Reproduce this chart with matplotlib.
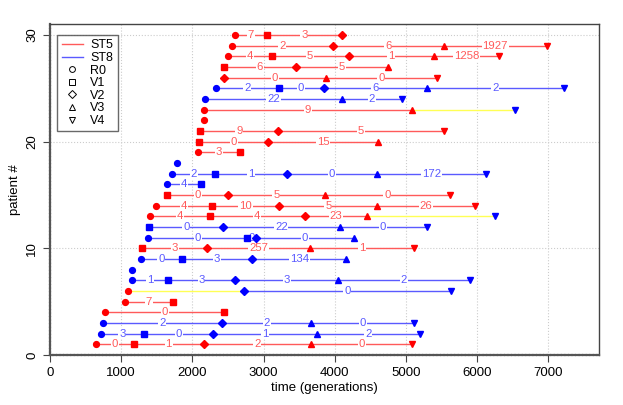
import numpy as np
import matplotlib.pyplot as plt
from matplotlib.lines import Line2D

nan = np.nan

# visit times (generations) for patients 1..30, nan = no sample
r0 = [648, 715, 741, 774, 1059, 1097, 1157, 1157, 1279, nan,
      1382, nan, 1410, 1494, nan, 1648, 1714, 1779, 2074, nan,
      nan, 2158, 2158, 2181, 2326, nan, nan, 2495, 2555, 2600]
v1 = [1175, 1320, nan, 2448, 1723, nan, 1653, nan, 1850, 1293,
      2761, 1396, 2242, 2275, 1648, 2116, 2317, nan, 2667, 2097,
      2110, nan, nan, nan, 3210, nan, 2443, 3112, nan, 3046]
v2 = [2158, 2290, 2413, nan, nan, 2728, 2602, nan, 2840, 2205,
      2892, 2429, 3579, 3219, 2495, nan, 3322, nan, nan, 3065,
      3205, nan, nan, nan, 3841, 2439, 3453, 4192, 3968, 4098]
v3 = [3660, 3750, 3668, nan, nan, nan, 4046, nan, 4159, 3654,
      4271, 4066, 4449, 4599, 3860, nan, 4599, nan, nan, 4608,
      nan, nan, 5080, 4094, 5290, 3874, 4753, 5393, 5533, nan]
v4 = [5090, 5190, 5110, nan, nan, 5627, 5898, nan, nan, 5112,
      nan, 5290, 6244, 5963, 5617, nan, 6118, nan, nan, nan,
      5533, nan, 6528, 4949, 7216, 5431, nan, 6300, 6975, nan]

# strain found at each visit (R0 V1 V2 V3 V4): 5 = ST5, 8 = ST8
strain = ["55555", "88888", "8.888", "55...", "55...", "5.8.8", "88888", "8....", "8888.", ".5555",
          "8888.", ".8888", "55558", "55555", ".5555", "88...", "88888", "8....", "55...", ".555.",
          ".55.5", "5....", "5..58", "8..88", "88888", "..555", ".555.", "55555", "5.555", "555.."]

# numbers written on each segment (None = strain switch, no number)
seg_labels = [[0, 1, 2, 0], [3, 0, 1, 2], [2, 2, 0], [0], [7], [None, 0], [1, 3, 3, 2], [], [0, 3, 134], [3, 257, 1],
              [0, 0, 0], [0, 22, 0], [4, 4, 23, None], [4, 10, 5, 26], [0, 5, 0], [4], [2, 1, 0, 172], [], [3], [0, 15],
              [9, 5], [], [9, None], [22, 2], [2, 0, 6, 2], [0, 0], [6, 5], [4, 5, 1, 1258], [2, 6, 1927], [7, 3]]

visits = ['R0', 'V1', 'V2', 'V3', 'V4']
markers = ['o', 's', 'D', '^', 'v']
msizes = [4.2, 3.8, 3.6, 4.6, 4.6]
pt_col = {'5': '#ff0000', '8': '#0000ff'}
ln_col = {'5': '#ff5a5a', '8': '#5a5aff'}

plt.rcParams['font.family'] = ['Liberation Sans', 'DejaVu Sans']

fig = plt.figure(figsize=(6.23, 4.05), dpi=100)
ax = fig.add_axes([0.0803, 0.1235, 0.8812, 0.8165])

times = np.array([r0, v1, v2, v3, v4], dtype=float).T

for i in range(len(times)):
    y = i + 1
    idx = [k for k in range(5) if not np.isnan(times[i, k])]
    for j in range(len(idx) - 1):
        a, b = idx[j], idx[j + 1]
        sa, sb = strain[i][a], strain[i][b]
        c = ln_col[sa] if sa == sb else '#ffff55'
        ax.plot([times[i, a], times[i, b]], [y, y], color=c, lw=1.0, zorder=2)
        lab = seg_labels[i][j]
        if lab is not None:
            ax.text((times[i, a] + times[i, b]) / 2, y, str(lab), color=ln_col[sa],
                    fontsize=8.2, ha='center', va='center', zorder=3,
                    bbox=dict(facecolor='white', edgecolor='none', pad=0.6))
    for k in idx:
        ax.plot(times[i, k], y, marker=markers[k], ms=msizes[k], color=pt_col[strain[i][k]],
                mec=pt_col[strain[i][k]], ls='none', zorder=4)

ax.set_xlim(0, 7710)
ax.set_ylim(0, 31)
ax.set_xticks(range(0, 8000, 1000))
ax.set_yticks([0, 10, 20, 30])
ax.set_yticklabels(['0', '10', '20', '30'], rotation=90, va='center')
ax.tick_params(labelsize=9.5, length=5, color='#444444')
ax.grid(True, ls=':', color='#cccccc', lw=0.8)
ax.set_axisbelow(True)

for s in ['top', 'right']:
    ax.spines[s].set_color('#444444')
    ax.spines[s].set_linewidth(1.0)
for s in ['left', 'bottom']:
    ax.spines[s].set_color('#555555')
    ax.spines[s].set_linewidth(1.6)
    ax.spines[s].set_linestyle((0, (1, 0.6)))

ax.set_xlabel('time (generations)', fontsize=9.5, labelpad=2)
ax.set_ylabel('patient #', fontsize=9.5, labelpad=4)

handles = [Line2D([], [], color=ln_col['5'], lw=1),
           Line2D([], [], color=ln_col['8'], lw=1)]
for k in range(5):
    handles.append(Line2D([], [], marker=markers[k], ls='none', ms=msizes[k],
                          mfc='none', mec='black', mew=0.7))
leg = ax.legend(handles, ['ST5', 'ST8'] + visits, loc='upper left', fontsize=9,
                frameon=True, fancybox=False, edgecolor='#444444', handlelength=1.7,
                labelspacing=0.05, borderpad=0.35, handletextpad=0.6,
                borderaxespad=0, bbox_to_anchor=(0.013, 0.968))
leg.get_frame().set_linewidth(1.0)

fig.savefig('out.png', dpi=100)
